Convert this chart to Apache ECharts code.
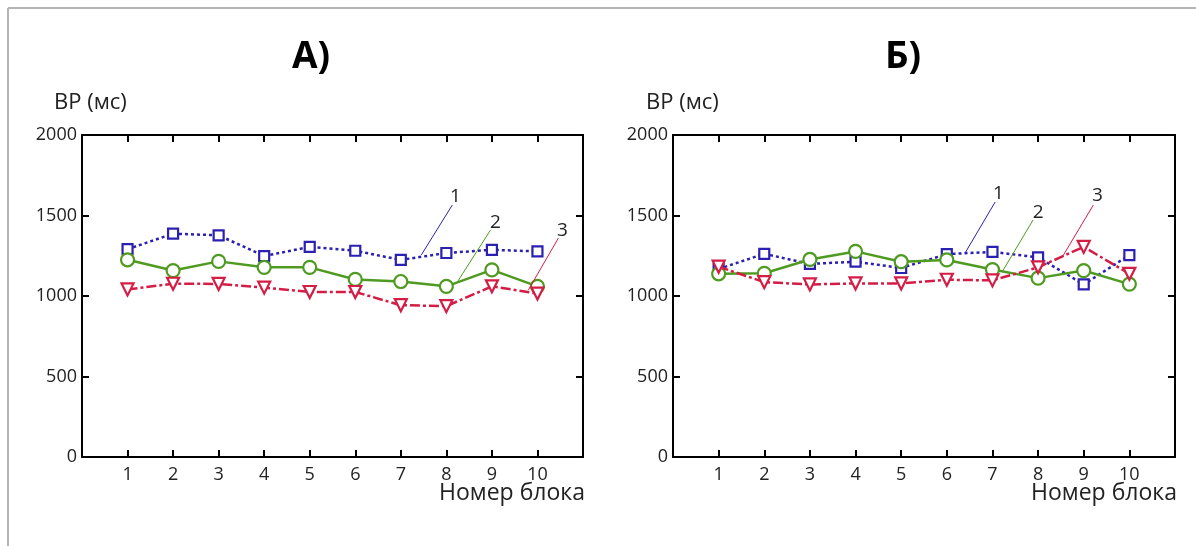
<!DOCTYPE html>
<html>
<head>
<meta charset="utf-8">
<script src="https://cdn.jsdelivr.net/npm/echarts@6/dist/echarts.min.js"></script>
<style>
  body { margin: 0; background: #fff; }
  #main { width: 1196px; height: 546px; }
</style>
</head>
<body>
<div id="main"></div>
<script>
// номера блоков
const blocks = [1, 2, 3, 4, 5, 6, 7, 8, 9, 10]

// А) время реакции, мс
const leftS1 = [1291, 1387, 1377, 1248, 1305, 1281, 1224, 1267, 1287, 1277]
const leftS2 = [1225, 1158, 1215, 1178, 1178, 1103, 1090, 1060, 1162, 1060]
const leftS3 = [1041, 1076, 1075, 1052, 1025, 1025, 943, 937, 1060, 1015]

// Б) время реакции, мс
const rightS1 = [1168, 1262, 1199, 1213, 1174, 1260, 1274, 1240, 1072, 1254]
const rightS2 = [1138, 1141, 1227, 1277, 1213, 1224, 1164, 1111, 1158, 1074]
const rightS3 = [1182, 1086, 1072, 1078, 1078, 1101, 1097, 1178, 1305, 1138]

// выноски: [метка, x1, y1, x2, y2, xLabel, yLabel]
const leftNotes = [
  ['1', 8.13, 1565, 7.45, 1255, 8.2, 1615],
  ['2', 8.97, 1410, 8.24, 1087, 9.08, 1455],
  ['3', 10.46, 1360, 9.80, 1037, 10.55, 1405]
]
const rightNotes = [
  ['1', 7.06, 1584, 6.40, 1267, 7.13, 1635],
  ['2', 7.89, 1472, 7.21, 1149, 8.0, 1517],
  ['3', 9.21, 1565, 8.53, 1242, 9.3, 1622]
]

const FONT = 'Open Sans'
const colors = ['#2b20b0', '#4f9a20', '#d41d45']
const symbols = [
  { symbol: 'rect', size: 10, rotate: 0 },
  { symbol: 'circle', size: 13, rotate: 0 },
  { symbol: 'triangle', size: 12, rotate: 180 }
]
const lineTypes = [[3, 3], 'solid', [10, 3, 3, 3]]

const myChart = echarts.init(document.getElementById('main'))

const grids = [
  { left: 82, top: 135, width: 501, height: 322 },
  { left: 673, top: 135, width: 502, height: 322 }
]

const blackLine = { onZero: false, lineStyle: { color: '#000', width: 2 } }
const blackTick = { show: true, inside: true, length: 7, lineStyle: { color: '#000', width: 2 } }

function makeAxes (idx) {
  const xs = [
    {
      type: 'value', gridIndex: idx, min: 0, max: 11, interval: 1,
      position: 'bottom',
      axisLine: blackLine,
      axisTick: blackTick,
      axisLabel: {
        color: '#222', fontSize: 18, fontFamily: FONT, margin: 9,
        formatter: v => (blocks.indexOf(v) >= 0 ? String(v) : '')
      },
      splitLine: { show: false }
    },
    {
      type: 'value', gridIndex: idx, min: 0, max: 11, interval: 1,
      position: 'top',
      axisLine: blackLine,
      axisTick: blackTick,
      axisLabel: { show: false },
      splitLine: { show: false }
    }
  ]
  const ys = [
    {
      type: 'value', gridIndex: idx, min: 0, max: 2000, interval: 500,
      position: 'left',
      axisLine: Object.assign({ show: true }, blackLine),
      axisTick: blackTick,
      axisLabel: { color: '#222', fontSize: 18, fontFamily: FONT, margin: 5, formatter: v => String(v) },
      splitLine: { show: false }
    },
    {
      type: 'value', gridIndex: idx, min: 0, max: 2000, interval: 500,
      position: 'right',
      axisLine: Object.assign({ show: true }, blackLine),
      axisTick: blackTick,
      axisLabel: { show: false },
      splitLine: { show: false }
    }
  ]
  return { xs, ys }
}

const a0 = makeAxes(0)
const a1 = makeAxes(1)

function makeSeries (vals, k, xi, yi, note) {
  const s = {
    type: 'line',
    xAxisIndex: xi,
    yAxisIndex: yi,
    data: vals.map((v, i) => [blocks[i], v]),
    symbol: symbols[k].symbol,
    symbolSize: symbols[k].size,
    symbolRotate: symbols[k].rotate,
    showAllSymbol: true,
    lineStyle: { color: colors[k], width: 2.5, type: lineTypes[k] },
    itemStyle: { color: '#fff', borderColor: colors[k], borderWidth: 2.2 },
    z: 3 + k,
    silent: true
  }
  if (note) {
    s.markLine = {
      silent: true,
      symbol: ['none', 'none'],
      label: { show: false },
      lineStyle: { color: colors[k], width: 1, type: 'solid' },
      data: [[{ coord: [note[1], note[2]] }, { coord: [note[3], note[4]] }]]
    }
    s.markPoint = {
      silent: true,
      symbol: 'circle',
      symbolSize: 0,
      label: {
        show: true, position: 'inside', formatter: note[0],
        color: '#222', fontSize: 19, fontFamily: FONT
      },
      data: [{ coord: [note[5], note[6]] }]
    }
  }
  return s
}

const option = {
  animation: false,
  grid: grids,
  xAxis: [a0.xs[0], a0.xs[1], a1.xs[0], a1.xs[1]],
  yAxis: [a0.ys[0], a0.ys[1], a1.ys[0], a1.ys[1]],
  series: [
    makeSeries(leftS1, 0, 0, 0, leftNotes[0]),
    makeSeries(leftS2, 1, 0, 0, leftNotes[1]),
    makeSeries(leftS3, 2, 0, 0, leftNotes[2]),
    makeSeries(rightS1, 0, 2, 2, rightNotes[0]),
    makeSeries(rightS2, 1, 2, 2, rightNotes[1]),
    makeSeries(rightS3, 2, 2, 2, rightNotes[2])
  ],
  graphic: [
    { type: 'line', shape: { x1: 8, y1: 8, x2: 1196, y2: 8 }, style: { stroke: '#b4b4b4', lineWidth: 2 } },
    { type: 'line', shape: { x1: 8, y1: 8, x2: 8, y2: 546 }, style: { stroke: '#b4b4b4', lineWidth: 2 } },
    { type: 'text', left: 292, top: 39, style: { text: 'А)', font: 'bold 37px "Open Sans"', fill: '#000' } },
    { type: 'text', left: 885, top: 39, style: { text: 'Б)', font: 'bold 37px "Open Sans"', fill: '#000' } },
    { type: 'text', left: 54, top: 92, style: { text: 'ВР (мс)', font: '22px "Open Sans"', fill: '#222' } },
    { type: 'text', left: 646, top: 92, style: { text: 'ВР (мс)', font: '22px "Open Sans"', fill: '#222' } },
    { type: 'text', right: 1196 - 585, top: 482, style: { text: 'Номер блока', font: '23px "Open Sans"', fill: '#222' } },
    { type: 'text', right: 1196 - 1177, top: 482, style: { text: 'Номер блока', font: '23px "Open Sans"', fill: '#222' } }
  ]
}

myChart.setOption(option)
</script>
</body>
</html>
